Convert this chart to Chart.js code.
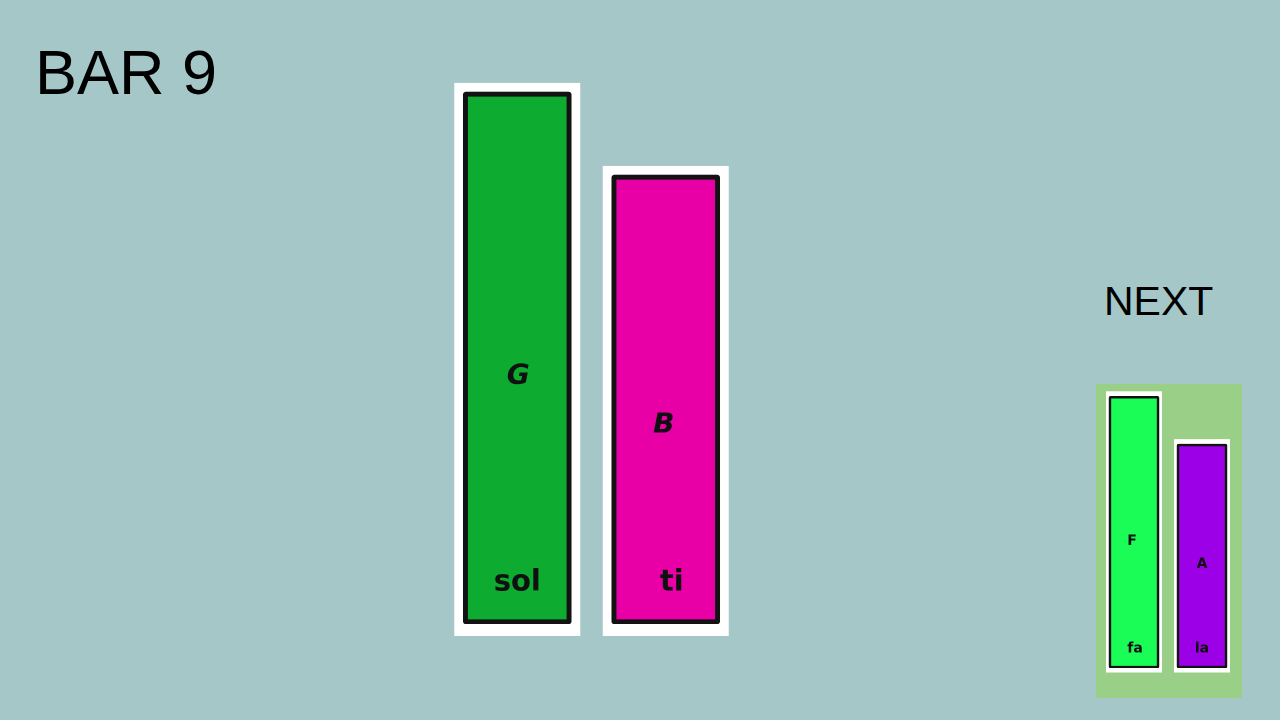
<!DOCTYPE html>
<html>
<head>
<meta charset="utf-8">
<script src="https://cdn.jsdelivr.net/npm/chart.js@4"></script>
<style>
  html, body { margin: 0; padding: 0; }
  body { width: 1280px; height: 720px; background: #a5c7c8; position: relative; overflow: hidden; font-family: "Liberation Sans", Arial, sans-serif; }
  .title { position: absolute; left: 35px; top: 41px; font-size: 63px; line-height: 63px; color: #000; white-space: nowrap; }
  .next { position: absolute; left: 1104px; top: 281px; font-size: 41px; line-height: 41px; color: #000; white-space: nowrap; }
  .panel { position: absolute; left: 1096px; top: 384px; width: 146px; height: 314px; background: #99cf86; }
  #mainWrap { position: absolute; left: 443px; top: 60px; width: 297px; height: 590px; }
  #nextWrap { position: absolute; left: 1100px; top: 380px; width: 136px; height: 310px; }
</style>
</head>
<body>
<div class="title">BAR 9</div>
<div class="next">NEXT</div>
<div class="panel"></div>
<div id="mainWrap"><canvas id="mainChart"></canvas></div>
<div id="nextWrap"><canvas id="nextChart"></canvas></div>
<script>
// ---- Current bar (BAR 9) ----
const mainNotes = ["G", "B"];
const mainSyllables = ["sol", "ti"];
const mainValues = [100, 84.4];
const mainNoteAt = [46.6, 37.4];
const mainSyllableAt = [7.7, 7.7];
const mainColors = ["#0dab2f", "#e800a6"];

// ---- Next bar ----
const nextNotes = ["F", "A"];
const nextSyllables = ["fa", "la"];
const nextValues = [100, 82.4];
const nextNoteAt = [46.7, 38.2];
const nextSyllableAt = [7.0, 7.0];
const nextColors = ["#19fd56", "#9b00e6"];

const yMax = 106;

const framePlugin = {
  id: 'whiteFrame',
  beforeDatasetsDraw(chart, args, opts) {
    const ctx = chart.ctx;
    const meta = chart.getDatasetMeta(0);
    ctx.save();
    ctx.fillStyle = '#ffffff';
    meta.data.forEach((bar) => {
      const p = bar.getProps(['x', 'y', 'base', 'width'], true);
      const top = Math.min(p.y, p.base);
      const bottom = Math.max(p.y, p.base);
      ctx.fillRect(p.x - p.width / 2 - opts.side, top - opts.top,
                   p.width + 2 * opts.side, bottom - top + opts.top + opts.bottom);
    });
    ctx.restore();
  }
};

const labelPlugin = {
  id: 'noteLabels',
  afterDatasetsDraw(chart, args, opts) {
    const ctx = chart.ctx;
    const meta = chart.getDatasetMeta(0);
    const ys = chart.scales.y;
    ctx.save();
    ctx.textAlign = 'center';
    ctx.textBaseline = 'middle';
    ctx.fillStyle = '#101010';
    meta.data.forEach((bar, i) => {
      const x = bar.getProps(['x'], true).x;
      ctx.font = opts.noteFont;
      ctx.fillText(opts.notes[i], x + (opts.noteDx[i] || 0), ys.getPixelForValue(opts.noteAt[i]));
      ctx.font = opts.sylFont;
      ctx.fillText(opts.syllables[i], x + (opts.sylDx[i] || 0), ys.getPixelForValue(opts.sylAt[i]));
    });
    ctx.restore();
  }
};

function makeChart(id, labels, values, colors, thickness, borderW, radius, padBottom, frame, lab) {
  return new Chart(document.getElementById(id), {
    type: 'bar',
    data: {
      labels: labels,
      datasets: [{
        data: values,
        backgroundColor: colors,
        borderColor: '#121212',
        borderWidth: borderW,
        borderRadius: radius,
        borderSkipped: false,
        barThickness: thickness
      }]
    },
    options: {
      responsive: true,
      maintainAspectRatio: false,
      animation: false,
      devicePixelRatio: 2,
      layout: { padding: { top: 0, bottom: padBottom, left: 0, right: 0 } },
      scales: {
        x: { display: false },
        y: { display: false, min: 0, max: yMax }
      },
      plugins: {
        legend: { display: false },
        tooltip: { enabled: false },
        whiteFrame: frame,
        noteLabels: lab
      }
    },
    plugins: [framePlugin, labelPlugin]
  });
}

makeChart('mainChart', mainNotes, mainValues, mainColors, 108, 5, 3, 26,
  { side: 9, top: 9, bottom: 12 },
  { notes: mainNotes, syllables: mainSyllables, noteAt: mainNoteAt, sylAt: mainSyllableAt,
    noteFont: 'italic bold 28px "DejaVu Sans"', sylFont: 'bold 29px "DejaVu Sans"',
    noteDx: [1, -2], sylDx: [0, 6] });

makeChart('nextChart', nextNotes, nextValues, nextColors, 50, 2.5, 2, 22,
  { side: 3, top: 5, bottom: 4.5 },
  { notes: nextNotes, syllables: nextSyllables, noteAt: nextNoteAt, sylAt: nextSyllableAt,
    noteFont: 'bold 14px "DejaVu Sans"', sylFont: 'bold 14px "DejaVu Sans"',
    noteDx: [-2, 0], sylDx: [1, 0] });
</script>
</body>
</html>
